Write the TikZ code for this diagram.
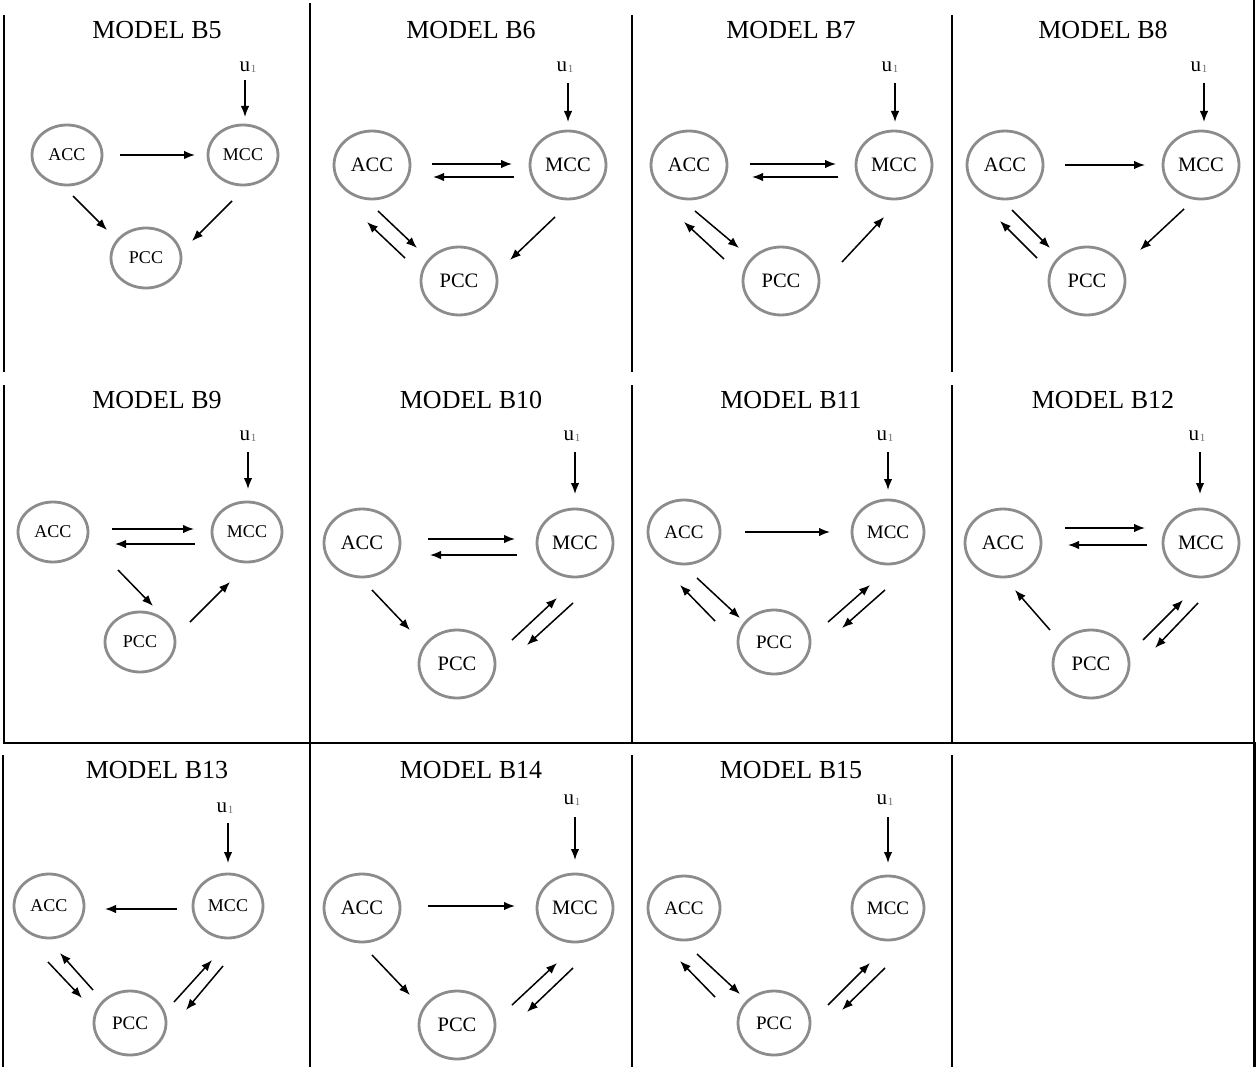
\documentclass[tikz,border=0pt]{standalone}
\usepackage{fontspec}
\setmainfont{Liberation Serif}
\usetikzlibrary{shapes.geometric,arrows.meta,calc}
\definecolor{ringgray}{RGB}{140,140,140}
\definecolor{subgray}{RGB}{110,110,110}
\tikzset{
  cc/.style={ellipse, draw=ringgray, line width=2.8pt, inner sep=0pt},
  sm/.style={cc, minimum width=70pt, minimum height=60pt, font=\fontsize{18}{18}\selectfont},
  md/.style={cc, minimum width=72pt, minimum height=64pt, font=\fontsize{19}{19}\selectfont},
  bg/.style={cc, minimum width=76pt, minimum height=68pt, font=\fontsize{20.5}{20.5}\selectfont},
  ttl/.style={font=\fontsize{26}{26}\selectfont, inner sep=0pt},
  inp/.style={font=\fontsize{21}{21}\selectfont, inner sep=0pt},
  arr/.style={-{Latex[length=11pt,width=8.5pt]}, line width=1.5pt},
  gridline/.style={line width=1.2pt}
}
\newcommand{\uone}{u\kern0.6pt\raisebox{-1pt}{\fontsize{11}{11}\selectfont\color{subgray}1}}
\begin{document}
\begin{tikzpicture}[x=1pt,y=-1pt]
\useasboundingbox (0,0) rectangle (1257,1067);
% ---------- grid ----------
\draw[gridline] (4,15) -- (4,372);
\draw[gridline] (632,15) -- (632,372);
\draw[gridline] (952,15) -- (952,372);
\draw[gridline] (4,385) -- (4,743);
\draw[gridline] (632,385) -- (632,743);
\draw[gridline] (952,385) -- (952,743);
\draw[gridline] (310,3) -- (310,1067);
\draw[gridline] (1254,0) -- (1254,743);
\draw[gridline] (3,743) -- (1256,743);
\draw[gridline] (3,755) -- (3,1067);
\draw[gridline] (632,755) -- (632,1067);
\draw[gridline] (952,755) -- (952,1067);
\draw[line width=2.4pt] (1254.5,743) -- (1254.5,1067);
% ---------- titles ----------
\node[ttl] (t5) at (157,30) {MODEL B5};
\node[ttl] (t6) at (471,30) {MODEL B6};
\node[ttl] (t7) at (791,30) {MODEL B7};
\node[ttl] (t8) at (1103,30) {MODEL B8};
\node[ttl] (t9) at (157,400) {MODEL B9};
\node[ttl] (t10) at (471,400) {MODEL B10};
\node[ttl] (t11) at (791,400) {MODEL B11};
\node[ttl] (t12) at (1103,400) {MODEL B12};
\node[ttl] (t13) at (157,770) {MODEL B13};
\node[ttl] (t14) at (471,770) {MODEL B14};
\node[ttl] (t15) at (791,770) {MODEL B15};
% ---------- B5 ----------
\node[sm] (a5) at (67,155) {ACC};
\node[sm] (m5) at (243,155) {MCC};
\node[sm] (p5) at (146,258) {PCC};
\node[inp] (u5) at (248,67) {\uone};
\draw[arr] ($(u5)+(-3,13)$) -- ($(m5)+(2,-38)$);
\draw[arr] ($(a5)+(53,0)$) -- ($(m5)+(-48,0)$);
\draw[arr] ($(a5)+(6,41)$) -- ($(p5)+(-39,-28)$);
\draw[arr] ($(m5)+(-11,46)$) -- ($(p5)+(46,-17)$);
% ---------- B6 ----------
\node[bg] (a6) at (372,165) {ACC};
\node[bg] (m6) at (568,165) {MCC};
\node[bg] (p6) at (459,281) {PCC};
\node[inp] (u6) at (565,67) {\uone};
\draw[arr] ($(u6)+(3,16)$) -- ($(m6)+(0,-43)$);
\draw[arr] ($(a6)+(60,-1)$) -- ($(m6)+(-56,-1)$);
\draw[arr] ($(m6)+(-54,12)$) -- ($(a6)+(61,12)$);
\draw[arr] ($(a6)+(6,46)$) -- ($(p6)+(-42,-33)$);
\draw[arr] ($(p6)+(-54,-23)$) -- ($(a6)+(-5,57)$);
\draw[arr] ($(m6)+(-13,52)$) -- ($(p6)+(51,-21)$);
% ---------- B7 ----------
\node[bg] (a7) at (689,165) {ACC};
\node[bg] (m7) at (894,165) {MCC};
\node[bg] (p7) at (781,281) {PCC};
\node[inp] (u7) at (890,67) {\uone};
\draw[arr] ($(u7)+(5,16)$) -- ($(m7)+(1,-43)$);
\draw[arr] ($(a7)+(61,-1)$) -- ($(m7)+(-58,-1)$);
\draw[arr] ($(m7)+(-56,12)$) -- ($(a7)+(63,12)$);
\draw[arr] ($(a7)+(6,46)$) -- ($(p7)+(-42,-33)$);
\draw[arr] ($(p7)+(-57,-22)$) -- ($(a7)+(-5,57)$);
\draw[arr] ($(p7)+(61,-19)$) -- ($(m7)+(-10,52)$);
% ---------- B8 ----------
\node[bg] (a8) at (1005,165) {ACC};
\node[bg] (m8) at (1201,165) {MCC};
\node[bg] (p8) at (1087,281) {PCC};
\node[inp] (u8) at (1199,67) {\uone};
\draw[arr] ($(u8)+(5,16)$) -- ($(m8)+(3,-43)$);
\draw[arr] ($(a8)+(60,0)$) -- ($(m8)+(-56,0)$);
\draw[arr] ($(a8)+(7,45)$) -- ($(p8)+(-37,-33)$);
\draw[arr] ($(p8)+(-50,-23)$) -- ($(a8)+(-5,56)$);
\draw[arr] ($(m8)+(-17,44)$) -- ($(p8)+(53,-31)$);
% ---------- B9 ----------
\node[sm] (a9) at (53,532) {ACC};
\node[sm] (m9) at (247,532) {MCC};
\node[sm] (p9) at (140,642) {PCC};
\node[inp] (u9) at (248,436) {\uone};
\draw[arr] ($(u9)+(0,16)$) -- ($(m9)+(1,-43)$);
\draw[arr] ($(a9)+(59,-3)$) -- ($(m9)+(-53,-3)$);
\draw[arr] ($(m9)+(-52,12)$) -- ($(a9)+(62,12)$);
\draw[arr] ($(a9)+(65,38)$) -- ($(p9)+(13,-36)$);
\draw[arr] ($(p9)+(50,-20)$) -- ($(m9)+(-17,50)$);
% ---------- B10 ----------
\node[bg] (a10) at (362,543) {ACC};
\node[bg] (m10) at (575,543) {MCC};
\node[bg] (p10) at (457,664) {PCC};
\node[inp] (u10) at (572,436) {\uone};
\draw[arr] ($(u10)+(3,16)$) -- ($(m10)+(0,-49)$);
\draw[arr] ($(a10)+(66,-4)$) -- ($(m10)+(-60,-4)$);
\draw[arr] ($(m10)+(-58,12)$) -- ($(a10)+(68,12)$);
\draw[arr] ($(a10)+(10,47)$) -- ($(p10)+(-47,-34)$);
\draw[arr] ($(p10)+(55,-24)$) -- ($(m10)+(-18,55)$);
\draw[arr] ($(m10)+(-2,60)$) -- ($(p10)+(70,-19)$);
% ---------- B11 ----------
\node[md] (a11) at (684,532) {ACC};
\node[md] (m11) at (888,532) {MCC};
\node[md] (p11) at (774,642) {PCC};
\node[inp] (u11) at (885,436) {\uone};
\draw[arr] ($(u11)+(3,16)$) -- ($(m11)+(0,-42)$);
\draw[arr] ($(a11)+(61,0)$) -- ($(m11)+(-58,0)$);
\draw[arr] ($(a11)+(13,46)$) -- ($(p11)+(-34,-24)$);
\draw[arr] ($(p11)+(-59,-21)$) -- ($(a11)+(-4,53)$);
\draw[arr] ($(p11)+(54,-20)$) -- ($(m11)+(-18,53)$);
\draw[arr] ($(m11)+(-3,58)$) -- ($(p11)+(68,-14)$);
% ---------- B12 ----------
\node[bg] (a12) at (1003,543) {ACC};
\node[bg] (m12) at (1201,543) {MCC};
\node[bg] (p12) at (1091,664) {PCC};
\node[inp] (u12) at (1197,436) {\uone};
\draw[arr] ($(u12)+(3,16)$) -- ($(m12)+(-1,-49)$);
\draw[arr] ($(a12)+(62,-15)$) -- ($(m12)+(-56,-15)$);
\draw[arr] ($(m12)+(-54,2)$) -- ($(a12)+(65,2)$);
\draw[arr] ($(p12)+(-41,-34)$) -- ($(a12)+(12,47)$);
\draw[arr] ($(p12)+(52,-24)$) -- ($(m12)+(-18,57)$);
\draw[arr] ($(m12)+(-3,60)$) -- ($(p12)+(64,-16)$);
% ---------- B13 ----------
\node[sm, minimum height=64pt] (a13) at (49,906) {ACC};
\node[sm, minimum height=64pt] (m13) at (228,906) {MCC};
\node[md] (p13) at (130,1023) {PCC};
\node[inp] (u13) at (225,808) {\uone};
\draw[arr] ($(u13)+(3,15)$) -- ($(m13)+(0,-43)$);
\draw[arr] ($(m13)+(-51,3)$) -- ($(a13)+(56,3)$);
\draw[arr] ($(a13)+(-1,56)$) -- ($(p13)+(-48,-25)$);
\draw[arr] ($(p13)+(-37,-33)$) -- ($(a13)+(11,47)$);
\draw[arr] ($(p13)+(44,-21)$) -- ($(m13)+(-16,54)$);
\draw[arr] ($(m13)+(-5,60)$) -- ($(p13)+(56,-13)$);
% ---------- B14 ----------
\node[bg] (a14) at (362,908) {ACC};
\node[bg] (m14) at (575,908) {MCC};
\node[bg] (p14) at (457,1025) {PCC};
\node[inp] (u14) at (572,800) {\uone};
\draw[arr] ($(u14)+(3,17)$) -- ($(m14)+(0,-48)$);
\draw[arr] ($(a14)+(66,-2)$) -- ($(m14)+(-60,-2)$);
\draw[arr] ($(a14)+(10,47)$) -- ($(p14)+(-47,-30)$);
\draw[arr] ($(p14)+(55,-20)$) -- ($(m14)+(-18,55)$);
\draw[arr] ($(m14)+(-2,60)$) -- ($(p14)+(70,-13)$);
% ---------- B15 ----------
\node[md] (a15) at (684,908) {ACC};
\node[md] (m15) at (888,908) {MCC};
\node[md] (p15) at (774,1023) {PCC};
\node[inp] (u15) at (885,800) {\uone};
\draw[arr] ($(u15)+(3,17)$) -- ($(m15)+(0,-45)$);
\draw[arr] ($(a15)+(13,46)$) -- ($(p15)+(-34,-29)$);
\draw[arr] ($(p15)+(-59,-26)$) -- ($(a15)+(-4,53)$);
\draw[arr] ($(p15)+(54,-18)$) -- ($(m15)+(-18,55)$);
\draw[arr] ($(m15)+(-3,60)$) -- ($(p15)+(68,-13)$);
\end{tikzpicture}
\end{document}
